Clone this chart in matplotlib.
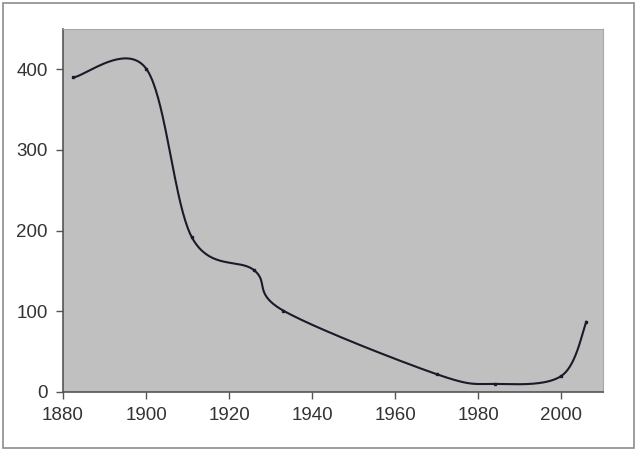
import numpy as np
import matplotlib
matplotlib.use('Agg')
import matplotlib.pyplot as plt
from matplotlib.patches import Rectangle

years = [1882.5, 1900, 1911, 1926, 1933, 1970, 1984, 2000, 2006]
values = [390, 401, 192, 151, 101, 22, 10, 20, 87]


def smooth_line(xs, ys, n=40):
    # Excel style smoothed line: cubic Bezier, control points from neighbours / 6
    pts = np.column_stack([xs, ys]).astype(float)
    padded = np.vstack([pts[0], pts, pts[-1]])
    out = []
    for i in range(len(pts) - 1):
        p0, p1 = padded[i + 1], padded[i + 2]
        c0 = p0 + (padded[i + 2] - padded[i]) / 6
        c1 = p1 - (padded[i + 3] - padded[i + 1]) / 6
        t = np.linspace(0, 1, n)[:, None]
        seg = ((1 - t) ** 3) * p0 + 3 * ((1 - t) ** 2) * t * c0 + 3 * (1 - t) * t ** 2 * c1 + t ** 3 * p1
        out.append(seg)
    out = np.vstack(out)
    return out[:, 0], out[:, 1]


plt.rcParams['font.family'] = ['Liberation Sans', 'DejaVu Sans']

fig = plt.figure(figsize=(6.4, 4.53), dpi=100)
fig.patches.append(Rectangle((3 / 640, 5 / 453), 631 / 640, 445 / 453, transform=fig.transFigure,
                             fill=False, edgecolor='#8c8c8c', linewidth=1.2))
ax = fig.add_axes([63 / 640, 61 / 453, 540 / 640, 363 / 453])
ax.set_facecolor('#c0c0c0')

sx, sy = smooth_line(years, values)
ax.plot(sx, sy, color='#1a1a28', linewidth=1.5)
ax.plot(years, values, 's', color='#1a1a33', markersize=2)

ax.set_xlim(1880, 2010)
ax.set_ylim(0, 450)
ax.set_xticks(range(1880, 2001, 20))
ax.set_yticks(range(0, 401, 100))

for side in ['top', 'right']:
    ax.spines[side].set_color('#a8a8a8')
for side in ['left', 'bottom']:
    ax.spines[side].set_color('#555555')
    ax.spines[side].set_linewidth(1.2)
ax.tick_params(direction='out', length=5, width=1, colors='#555555', labelcolor='#333333', labelsize=13.5, pad=6)

fig.savefig('out.png', dpi=100)
